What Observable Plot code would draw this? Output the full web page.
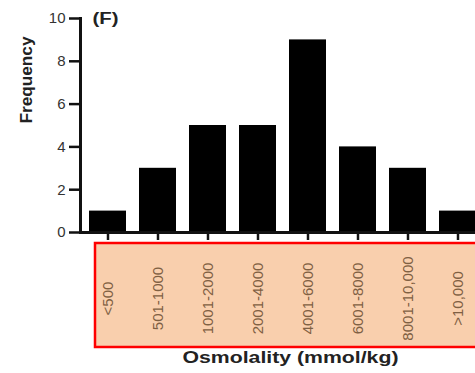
<!DOCTYPE html>
<html>
<head>
<meta charset="utf-8">
<script src="https://cdn.jsdelivr.net/npm/d3@7"></script>
<script src="https://cdn.jsdelivr.net/npm/@observablehq/plot@0.6"></script>
<style>
  html, body { margin: 0; padding: 0; background: #fff; overflow: hidden; }
</style>
</head>
<body>
<div id="chart"></div>
<script>
// Osmolality classes and how many samples fall in each
const categories = ["<500", "501-1000", "1001-2000", "2001-4000", "4001-6000", "6001-8000", "8001-10,000", ">10,000"];
const frequency = [1, 3, 5, 5, 9, 4, 3, 1];
const yTicks = [0, 2, 4, 6, 8, 10];
const panelTag = "(F)";
const xTitle = "Osmolality (mmol/kg)";
const yTitle = "Frequency";

const data = categories.map((c, i) => ({range: c, count: frequency[i]}));

// Peach, red-outlined panel behind the category labels
function labelPanel(index, scales, values, dims) {
  const left = scales.x(categories[0]) + 6;
  const top = dims.height - dims.marginBottom + 11;
  const bottom = dims.height - 26;
  return d3.create("svg:rect")
    .attr("x", left)
    .attr("y", top)
    .attr("width", dims.width - left + 20)
    .attr("height", bottom - top)
    .attr("fill", "#f9cfad")
    .attr("stroke", "#ff0000")
    .attr("stroke-width", 2.5)
    .node();
}

const chart = Plot.plot({
  width: 475,
  height: 373,
  marginTop: 18,
  marginRight: 0,
  marginBottom: 141,
  marginLeft: 80,
  style: {fontFamily: "'Liberation Sans', Arial, sans-serif", background: "#fff", color: "#000"},
  x: {domain: categories, range: [80, 484], paddingInner: 0.265, paddingOuter: 0.15},
  y: {domain: [0, 10]},
  marks: [
    labelPanel,
    Plot.barY(data, {x: "range", y: "count", fill: "#000"}),
    Plot.axisY({ticks: yTicks, tickSize: 11, tickPadding: 4, fontSize: 15, fill: "#333", stroke: "#111", strokeWidth: 2.5, label: null}),
    Plot.axisX({tickSize: 8, tickPadding: 58, tickRotate: -90, textAnchor: "middle", lineAnchor: "middle", fontSize: 15, fill: "#7f6043", stroke: "#111", strokeWidth: 2.5, label: null}),
    Plot.frame({anchor: "left", stroke: "#111", strokeWidth: 3}),
    Plot.frame({anchor: "bottom", stroke: "#111", strokeWidth: 3}),
    Plot.text([panelTag], {frameAnchor: "top-left", dx: 12, textAnchor: "start", lineAnchor: "middle", fontSize: 16, fontWeight: "bold", fill: "#222"}),
    Plot.text([yTitle], {frameAnchor: "left", dx: -54, dy: -2, rotate: -90, fontSize: 16, fontWeight: "bold", fill: "#222"}),
    Plot.text([xTitle], {frameAnchor: "bottom", dx: 12.5, dy: 130, fontSize: 17, fontWeight: "bold", fill: "#222"})
  ]
});

// Widen the bold titles to their set lengths
const svg = d3.select(chart);
const titleLengths = new Map([[xTitle, 216], [yTitle, 87], [panelTag, 26]]);
svg.selectAll("text")
  .filter(function () { return titleLengths.has(this.textContent); })
  .each(function () {
    d3.select(this)
      .attr("textLength", titleLengths.get(this.textContent))
      .attr("lengthAdjust", "spacingAndGlyphs");
  });

document.getElementById("chart").append(chart);
</script>
</body>
</html>
